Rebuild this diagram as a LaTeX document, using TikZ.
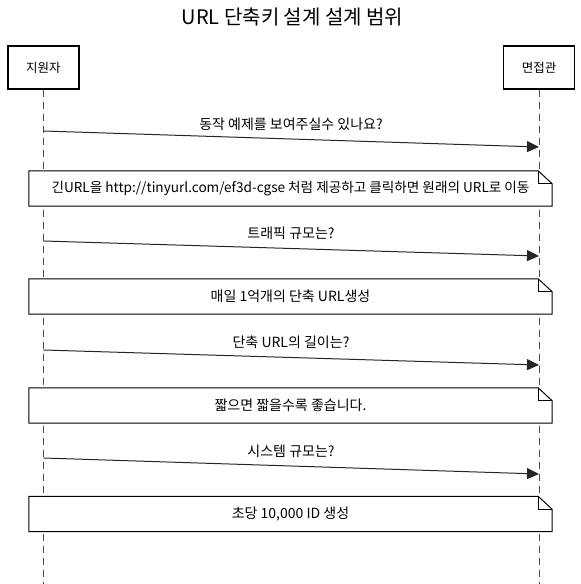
\documentclass[tikz,border=0pt]{standalone}
\usepackage{fontspec}
\setmainfont{Noto Sans CJK KR}
\usetikzlibrary{positioning,arrows.meta,calc}

\begin{document}
\begin{tikzpicture}[x=1pt,y=1pt,>={Triangle[length=12pt,width=11pt]},
	actor/.style={draw,line width=1.8pt,minimum width=71pt,minimum height=43pt,inner sep=0pt,font=\fontsize{12.5}{14}\selectfont},
	lifeline/.style={draw=black!70,line width=1pt,dash pattern=on 7pt off 5pt},
	msg/.style={->,line width=1pt,draw=black!85},
	msglabel/.style={inner sep=0pt,font=\fontsize{14}{16}\selectfont},
	note/.style={fill=white,minimum width=523pt,minimum height=35pt,inner sep=0pt,font=\fontsize{14}{16}\selectfont},
	]
	\useasboundingbox (0,0) rectangle (581,-584);

	\node[font=\fontsize{20}{24}\selectfont] (title) at (292.5,-17) {URL 단축키 설계 설계 범위};

	\node[actor] (user) at (43.5,-67.5) {지원자};
	\node[actor] (boss) at (539,-67.5) {면접관};
	\coordinate (userend) at (user |- 0,-584);
	\coordinate (bossend) at (boss |- 0,-584);

	\draw[lifeline] (user) -- (userend);
	\draw[lifeline] (boss) -- (bossend);

	% questions
	\coordinate (q1s) at (user |- 0,-131);
	\coordinate (q1e) at (boss |- 0,-147);
	\coordinate (q2s) at (user |- 0,-241);
	\coordinate (q2e) at (boss |- 0,-256);
	\coordinate (q3s) at (user |- 0,-350);
	\coordinate (q3e) at (boss |- 0,-365);
	\coordinate (q4s) at (user |- 0,-458);
	\coordinate (q4e) at (boss |- 0,-474);

	\draw[msg] (q1s) to[] (q1e);
	\draw[msg] (q2s) to[] (q2e);
	\draw[msg] (q3s) to[] (q3e);
	\draw[msg] (q4s) to[] (q4e);

	\node[msglabel] (q1) at (291,-124) {동작 예제를 보여주실수 있나요?};
	\node[msglabel] (q2) at (291,-233) {트래픽 규모는?};
	\node[msglabel] (q3) at (291,-342) {단축 URL의 길이는?};
	\node[msglabel] (q4) at (291,-451) {시스템 규모는?};

	% answers
	\node[note,font=\fontsize{13.6}{16}\selectfont] (a1) at (290.5,-188.5) {긴URL을 http://tinyurl.com/ef3d-cgse 처럼 제공하고 클릭하면 원래의 URL로 이동};
	\node[note] (a2) at (290.5,-296.5) {매일 1억개의 단축 URL생성};
	\node[note] (a3) at (290.5,-405.5) {짧으면 짧을수록 좋습니다.};
	\node[note] (a4) at (290.5,-514) {초당 10,000 ID 생성};

	\foreach \n in {a1,a2,a3,a4} {
		\draw[line width=1pt] (\n.south west) -- (\n.north west) -- ($(\n.north east)+(-14,0)$)
			-- ($(\n.north east)+(0,-13)$) -- (\n.south east) -- cycle;
		\draw[line width=1pt] ($(\n.north east)+(-14,0)$) |- ($(\n.north east)+(0,-13)$);
	}
\end{tikzpicture}
\end{document}
